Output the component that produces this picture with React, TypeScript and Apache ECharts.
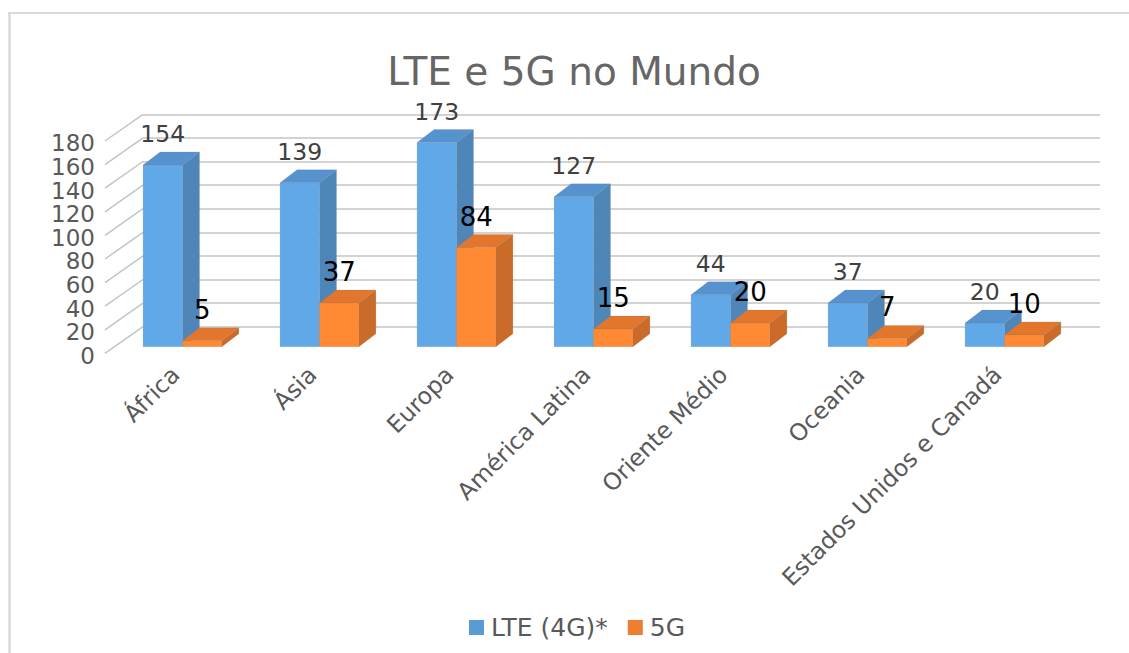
import React, { useEffect, useRef } from "react";
import * as echarts from "echarts";

const categories = ["África", "Ásia", "Europa", "América Latina", "Oriente Médio", "Oceania", "Estados Unidos e Canadá"];
const lteValues = [154, 139, 173, 127, 44, 37, 20];
const fiveGValues = [5, 37, 84, 15, 20, 7, 10];
const tickValues = [0, 20, 40, 60, 80, 100, 120, 140, 160, 180];

const FONT = "'DejaVu Sans', Verdana, sans-serif";
const DX = 17;
const DY = 13;
const WALL_DX = 38;
const WALL_DY = 26.7;

function bar3d(offsetSign: number, front: string, top: string, side: string, labelColor: string, labelSize: number) {
  return (params: any, api: any) => {
    const i = api.value(0);
    const v = api.value(1);
    const base = api.coord([i, 0]);
    const head = api.coord([i, v]);
    const w = 39.4;
    const x0 = offsetSign < 0 ? base[0] - w : base[0];
    const x1 = x0 + w;
    const yb = base[1];
    const yt = head[1];
    const lineStyle = { stroke: "rgba(120,120,120,0.35)", lineWidth: 0.5 };
    return {
      type: "group",
      children: [
        { type: "polygon", shape: { points: [[x1, yb], [x1 + DX, yb - DY], [x1 + DX, yt - DY], [x1, yt]] }, style: { fill: side, ...lineStyle } },
        { type: "polygon", shape: { points: [[x0, yt], [x0 + DX, yt - DY], [x1 + DX, yt - DY], [x1, yt]] }, style: { fill: top, ...lineStyle } },
        { type: "polygon", shape: { points: [[x0, yb], [x1, yb], [x1, yt], [x0, yt]] }, style: { fill: front, ...lineStyle } },
        { type: "text", style: { text: String(v), x: (x0 + x1) / 2, y: yt - 31, align: "center", verticalAlign: "middle", fill: labelColor, font: `${labelSize}px ${FONT}` } },
      ],
    };
  };
}

export default function App() {
  const ref = useRef<HTMLDivElement>(null);
  useEffect(() => {
    document.body.style.margin = "0";
    const chart = echarts.init(ref.current!, undefined, { renderer: "svg" });
    chart.setOption({
      animation: false,
      backgroundColor: "#ffffff",
      title: {
        text: "LTE e 5G no Mundo",
        left: 574,
        top: 71,
        padding: 0,
        textAlign: "center",
        textVerticalAlign: "middle",
        textStyle: { fontFamily: FONT, fontSize: 39, fontWeight: "normal", color: "#666666" },
      },
      legend: {
        left: 469,
        top: 615,
        padding: 0,
        itemWidth: 15,
        itemHeight: 15,
        itemGap: 20,
        icon: "rect",
        data: ["LTE (4G)*", "5G"],
        textStyle: { fontFamily: FONT, fontSize: 25, color: "#595959", padding: [0, 0, 0, 2] },
      },
      graphic: [
        { type: "line", shape: { x1: 9.5, y1: 13, x2: 9.5, y2: 653 }, style: { stroke: "#d9d9d9", lineWidth: 2.5 }, silent: true, z: -10 },
        { type: "line", shape: { x1: 8, y1: 13, x2: 1129, y2: 13 }, style: { stroke: "#d9d9d9", lineWidth: 2 }, silent: true, z: -10 },
      ],
      grid: [
        // bar plane
        { left: 114, width: 959, top: 134.3, height: 212.4 },
        // back wall
        { left: 143, width: 957, top: 114.3, height: 212.4 },
        // category-label plane
        { left: 107, width: 959, top: 134.3, height: 212.4 },
      ],
      xAxis: [
        { gridIndex: 0, type: "category", data: categories, show: false },
        { gridIndex: 1, type: "value", min: 0, max: 1, show: false },
        {
          gridIndex: 2,
          type: "category",
          data: categories,
          axisLine: { show: false },
          axisTick: { show: false },
          axisLabel: {
            interval: 0,
            rotate: 45,
            margin: 24,
            fontFamily: FONT,
            fontSize: 23.5,
            color: "#595959",
          },
        },
      ],
      yAxis: [
        { gridIndex: 0, type: "value", min: 0, max: 180, interval: 20, show: false },
        {
          gridIndex: 1,
          type: "value",
          min: 0,
          max: 180,
          interval: 20,
          axisLine: { show: false },
          axisTick: { show: false },
          axisLabel: { show: false },
          splitLine: { lineStyle: { color: "#c4c4c4", width: 1.5 } },
        },
        { gridIndex: 2, type: "value", min: 0, max: 180, interval: 20, show: false },
      ],
      series: [
        {
          name: "diagonals",
          type: "custom",
          xAxisIndex: 1,
          yAxisIndex: 1,
          silent: true,
          data: tickValues.map((t) => [0, t]),
          encode: { x: 0, y: 1 },
          renderItem: (_p: any, api: any) => {
            const t = api.value(1);
            const c = api.coord([0, t]);
            return {
              type: "group",
              children: [
                {
                  type: "line",
                  shape: { x1: c[0], y1: c[1], x2: c[0] - WALL_DX, y2: c[1] + WALL_DY },
                  style: { stroke: "#c4c4c4", lineWidth: 1.5 },
                },
                {
                  type: "text",
                  style: { text: String(t), x: 95, y: c[1] + 29, align: "right", verticalAlign: "middle", fill: "#595959", font: `23px ${FONT}` },
                },
              ],
            };
          },
          z: 1,
        },
        {
          name: "LTE (4G)*",
          type: "custom",
          xAxisIndex: 0,
          yAxisIndex: 0,
          itemStyle: { color: "#5B9BD5" },
          data: lteValues.map((v, i) => [i, v]),
          encode: { x: 0, y: 1 },
          renderItem: bar3d(-1, "#60A8E8", "#5592CE", "#4F86BA", "#404040", 23.5),
          z: 2,
        },
        {
          name: "5G",
          type: "custom",
          xAxisIndex: 0,
          yAxisIndex: 0,
          itemStyle: { color: "#ED7D31" },
          data: fiveGValues.map((v, i) => [i, v]),
          encode: { x: 0, y: 1 },
          renderItem: bar3d(1, "#FF8A33", "#E2762C", "#CB6B2A", "#000000", 26),
          z: 3,
        },
      ],
    });
    return () => chart.dispose();
  }, []);
  return <div ref={ref} style={{ width: 1129, height: 653 }} />;
}
